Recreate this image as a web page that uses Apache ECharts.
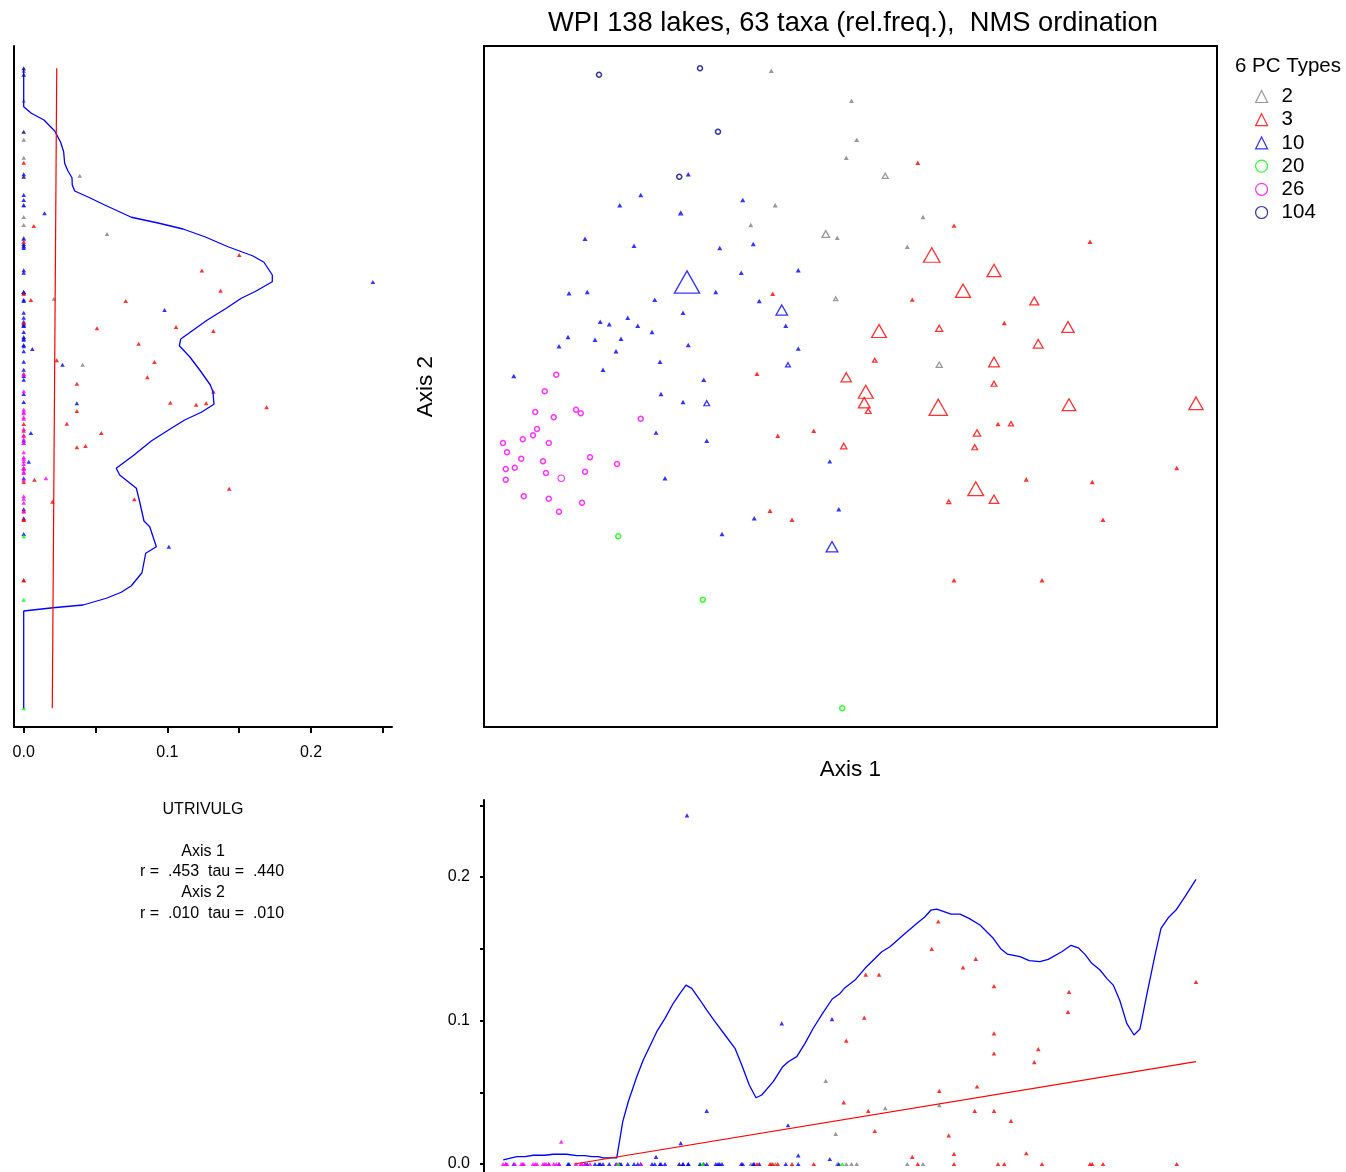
<!DOCTYPE html>
<html>
<head>
<meta charset="utf-8">
<script src="https://cdn.jsdelivr.net/npm/echarts@6/dist/echarts.min.js"></script>
<style>
  html, body { margin: 0; padding: 0; background: #fff; }
  #chart { width: 1346px; height: 1172px; }
</style>
</head>
<body>
<div id="chart"></div>
<script>
// PC type groups shown in the legend
const pcTypeNames = [2, 3, 10, 20, 26, 104];

// PC type of each lake (138 lakes)
const lakeType = [
  104, 104, 104, 104,
  2, 2, 2, 2, 2, 2, 2, 2, 2, 2, 2, 2, 2,
  10, 10, 10, 10, 10, 10, 10, 10, 10, 10, 10, 10,
  10, 10, 10, 10, 10, 10, 10, 10, 10, 10, 10, 10,
  10, 10, 10, 10, 10, 10, 10, 10, 10, 10, 10, 10,
  10, 10, 10, 10, 10, 10, 10, 10, 10, 10, 10, 10,
  3, 3, 3, 3, 3, 3, 3, 3, 3, 3, 3, 3,
  3, 3, 3, 3, 3, 3, 3, 3, 3, 3, 3, 3,
  3, 3, 3, 3, 3, 3, 3, 3, 3, 3, 3, 3,
  3, 3, 3, 3, 3, 3, 3,
  26, 26, 26, 26, 26, 26, 26, 26, 26, 26,
  26, 26, 26, 26, 26, 26, 26, 26, 26, 26,
  26, 26, 26, 26, 26, 26, 26,
  20, 20, 20
];

// NMS axis 1 scores
const axis1 = [
  -1.004, -0.600, -0.528, -0.683,
  -0.315, 0.006, 0.027, -0.015, 0.141, -0.299, 0.292, -0.397, -0.097, -0.051, 0.229, -0.057, 0.357,
  -0.647, -0.837, -0.921, -0.429, -0.677, -1.060, -0.864, -0.521, -0.387, -0.435, -0.207, -0.652,
  -1.124, -1.051, -0.537, -0.781, -0.363, -0.273, -0.668, -0.999, -0.963, -0.889, -0.849, -0.792,
  -0.257, -1.128, -1.164, -1.020, -0.916, -0.936, -0.647, -0.207, -0.760, -0.248, -1.345, -0.988,
  -0.585, -0.756, -0.668, -0.573, -0.776, -0.573, -0.081, -0.740, -0.512, -0.383, -0.045, -0.072,
  0.271, 0.416, 0.960, 0.327, 0.576, -0.309, 0.452, 0.249, 0.737, 0.116, 0.357, 0.617,
  0.872, 0.753, 0.099, 0.576, -0.372, -0.015, 0.063, 0.057, 0.073, 0.353, 0.576, 0.876,
  1.384, 0.592, 0.644, 0.508, 0.499, -0.289, -0.145, -0.025, 1.307, 0.705, 0.969, 0.503,
  0.395, 0.576, -0.320, -0.232, 1.012, 0.416, 0.768,
  -1.175, -1.221, -1.259, -1.185, -1.096, -1.077, -0.837, -1.252, -1.268, -1.309,
  -1.205, -1.388, -1.372, -1.315, -1.228, -1.040, -0.932, -1.377, -1.341, -1.216,
  -1.060, -1.155, -1.377, -1.305, -1.205, -1.072, -1.164,
  -0.927, -0.589, -0.031
];

// NMS axis 2 scores
const axis2 = [
  1.249, 1.275, 1.021, 0.841,
  1.265, 1.145, 0.989, 0.917, 0.845, 0.727, 0.680, 0.648, 0.612, 0.597, 0.561, 0.353, 0.089,
  0.851, 0.768, 0.727, 0.748, 0.695, 0.593, 0.565, 0.556, 0.572, 0.457, 0.467, 0.420,
  0.375, 0.380, 0.380, 0.349, 0.344, 0.308, 0.297, 0.261, 0.251, 0.277, 0.245, 0.220,
  0.245, 0.200, 0.163, 0.189, 0.193, 0.143, 0.168, 0.152, 0.101, 0.089, 0.044, 0.069,
  0.029, -0.028, -0.060, -0.065, -0.184, -0.215, -0.299, -0.365, -0.588, -0.525, -0.489, -0.639,
  0.897, 0.644, 0.581, 0.528, 0.466, 0.373, 0.385, 0.348, 0.344, 0.224, 0.235, 0.256,
  0.240, 0.173, 0.107, 0.100, 0.053, 0.039, -0.019, -0.063, -0.096, -0.081, 0.013, -0.071,
  -0.065, -0.148, -0.147, -0.184, -0.241, -0.195, -0.175, -0.236, -0.324, -0.371, -0.380, -0.407,
  -0.459, -0.449, -0.495, -0.531, -0.531, -0.773, -0.773,
  0.049, -0.017, -0.100, -0.121, -0.091, -0.105, -0.127, -0.168, -0.193, -0.209,
  -0.224, -0.224, -0.261, -0.287, -0.297, -0.281, -0.308, -0.328, -0.323, -0.344,
  -0.339, -0.365, -0.371, -0.437, -0.447, -0.463, -0.499,
  -0.597, -0.851, -1.285
];

// UTRIVULG relative frequency per lake
const utrivulg = [
  0, 0, 0, 0,
  0, 0, 0, 0, 0.039, 0, 0, 0, 0.058, 0, 0, 0.021, 0.041,
  0, 0, 0, 0, 0.0145, 0, 0, 0, 0, 0, 0, 0.243,
  0, 0, 0, 0, 0, 0.098, 0, 0, 0, 0, 0, 0,
  0, 0, 0, 0, 0, 0, 0, 0.006, 0, 0.027, 0, 0,
  0, 0, 0, 0.037, 0.005, 0, 0.0035, 0, 0, 0, 0, 0.101,
  0, 0.007, 0, 0.150, 0.124, 0, 0.137, 0.005, 0.071, 0.132, 0.051, 0,
  0.106, 0.080, 0.023, 0.091, 0, 0.086, 0.132, 0.102, 0.037, 0.169, 0.037, 0.120,
  0.127, 0, 0.030, 0.054, 0.037, 0, 0, 0.043, 0, 0.0075, 0, 0.143,
  0.020, 0.077, 0, 0, 0, 0, 0,
  0, 0, 0, 0, 0, 0, 0, 0, 0, 0,
  0, 0, 0, 0, 0, 0, 0, 0, 0, 0,
  0, 0.0155, 0, 0, 0, 0, 0,
  0, 0, 0
];

// Smoothed trend of UTRIVULG along axis 2 (side panel)
const leftSmoothAxis2 = [1.275, 1.121, 1.095, 1.068, 1.024, 0.979, 0.941, 0.895, 0.864, 0.837, 0.808, 0.784, 0.757, 0.728, 0.679, 0.656, 0.632, 0.601, 0.561, 0.524, 0.499, 0.448, 0.421, 0.381, 0.355, 0.315, 0.268, 0.192, 0.165, 0.121, 0.068, 0.008, -0.019, -0.069, -0.101, -0.132, -0.165, -0.216, -0.275, -0.325, -0.352, -0.405, -0.459, -0.536, -0.559, -0.639, -0.665, -0.743, -0.795, -0.821, -0.845, -0.872, -0.883, -0.896, -1.285];
const leftSmoothUtr = [0, 0, 0.0053, 0.0141, 0.0216, 0.0257, 0.0278, 0.0285, 0.0308, 0.0336, 0.0338, 0.0355, 0.0459, 0.0564, 0.0749, 0.0935, 0.1109, 0.1260, 0.1422, 0.1596, 0.1672, 0.1730, 0.1730, 0.1608, 0.1514, 0.1410, 0.1278, 0.1093, 0.1083, 0.1155, 0.1225, 0.1299, 0.1317, 0.1324, 0.1236, 0.1120, 0.1027, 0.0888, 0.0761, 0.0644, 0.0668, 0.0784, 0.0807, 0.0837, 0.0877, 0.0923, 0.0849, 0.0823, 0.0749, 0.0679, 0.0575, 0.0413, 0.0204, 0, 0];

// Smoothed trend of UTRIVULG along axis 1 (lower panel)
const bottomSmoothAxis1 = [-1.387, -1.333, -1.300, -1.267, -1.220, -1.187, -1.133, -1.093, -1.060, -1.033, -1.007, -0.987, -0.933, -0.909, -0.887, -0.853, -0.827, -0.773, -0.740, -0.707, -0.680, -0.656, -0.633, -0.600, -0.573, -0.540, -0.500, -0.460, -0.433, -0.403, -0.376, -0.353, -0.307, -0.269, -0.247, -0.213, -0.180, -0.147, -0.107, -0.071, -0.040, -0.020, 0.020, 0.060, 0.127, 0.160, 0.213, 0.267, 0.300, 0.324, 0.347, 0.404, 0.440, 0.476, 0.520, 0.573, 0.604, 0.629, 0.680, 0.717, 0.760, 0.793, 0.847, 0.884, 0.913, 0.940, 0.967, 1.000, 1.027, 1.053, 1.080, 1.107, 1.136, 1.160, 1.187, 1.220, 1.244, 1.273, 1.304, 1.340, 1.384];
const bottomSmoothUtr = [0.0028, 0.0051, 0.0051, 0.0061, 0.0061, 0.0068, 0.0068, 0.0058, 0.0058, 0.0051, 0.0051, 0.0042, 0.0042, 0.0295, 0.0434, 0.0608, 0.0725, 0.0922, 0.1015, 0.1120, 0.1189, 0.1247, 0.1224, 0.1143, 0.1073, 0.0992, 0.0899, 0.0806, 0.0690, 0.0551, 0.0462, 0.0481, 0.0574, 0.0678, 0.0713, 0.0748, 0.0841, 0.0946, 0.1057, 0.1150, 0.1189, 0.1229, 0.1282, 0.1364, 0.1479, 0.1514, 0.1596, 0.1677, 0.1723, 0.1770, 0.1777, 0.1742, 0.1742, 0.1712, 0.1666, 0.1573, 0.1498, 0.1463, 0.1445, 0.1417, 0.1410, 0.1426, 0.1479, 0.1524, 0.1507, 0.1461, 0.1399, 0.1352, 0.1294, 0.1247, 0.1136, 0.0980, 0.0899, 0.0941, 0.1178, 0.1456, 0.1642, 0.1716, 0.1770, 0.1863, 0.1984];

// Linear fits (endpoints)
const leftFitAxis2 = [1.275, -1.285];
const leftFitUtr = [0.0230, 0.0199];
const bottomFitAxis1 = [-1.103, 1.384];
const bottomFitUtr = [0, 0.0713];

// Axis tick values for the two UTRIVULG scales
const utrTicks = [0, 0.05, 0.10, 0.15, 0.20, 0.25];
const utrLabels = [0, 0.1, 0.2];

// Correlation summary text
const statLines = ['UTRIVULG', 'Axis 1', 'r =  .453  tau =  .440', 'Axis 2', 'r =  .010  tau =  .010'];
const statLineY = [810, 852, 872, 893, 914];

// ---- styling ----
const FONT = 'Liberation Sans, Arial, Helvetica, sans-serif';
const typeColor = { 2: '#808080', 3: '#ff0000', 10: '#0000ff', 20: '#00ff00', 26: '#ff00ff', 104: '#000080' };
const circleTypes = new Set([20, 26, 104]);

function ordinationItem(i) {
  const t = lakeType[i], v = utrivulg[i], c = typeColor[t];
  const circ = circleTypes.has(t);
  let size, style;
  if (v === 0) {
    size = circ ? 5 : [5, 4.4];
    style = circ ? { color: '#ffffff', borderColor: c, borderWidth: 1.5 } : { color: c, borderWidth: 0 };
  } else {
    const w = circ ? 5 + 95 * v : 2.2 + 95 * v;
    size = circ ? w : [w, w * 0.88];
    style = { color: 'rgba(255,255,255,0)', borderColor: c, borderWidth: circ ? 1.1 : 1.3 };
  }
  return { value: [axis1[i], axis2[i]], symbol: circ ? 'circle' : 'triangle', symbolSize: size, itemStyle: style };
}

const indices = lakeType.map((_, i) => i);

const ordinationSeries = pcTypeNames.map(t => ({
  name: String(t),
  type: 'scatter',
  xAxisIndex: 0, yAxisIndex: 0,
  itemStyle: { color: typeColor[t] },
  data: indices.filter(i => lakeType[i] === t).map(ordinationItem)
}));

const sideMarker = { symbol: 'triangle', symbolSize: [4.6, 4.2] };

const option = {
  animation: false,
  backgroundColor: '#ffffff',
  textStyle: { fontFamily: FONT, color: '#000' },
  title: [
    {
      text: 'WPI 138 lakes, 63 taxa (rel.freq.),  NMS ordination',
      left: 548, top: 10, padding: 0,
      textStyle: { fontFamily: FONT, fontSize: 27.3, fontWeight: 'normal', color: '#000' }
    },
    {
      text: '6 PC Types',
      left: 1235, top: 56, padding: 0,
      textStyle: { fontFamily: FONT, fontSize: 20.5, fontWeight: 'normal', color: '#000' }
    }
  ],
  legend: {
    orient: 'vertical',
    left: 1255, top: 86, padding: 0,
    itemWidth: 12, itemHeight: 12, itemGap: 2.2, itemTextGap: 15,
    textStyle: { fontFamily: FONT, fontSize: 20.5, lineHeight: 20, color: '#000', padding: [0, 0, 0, 9] },
    selectedMode: false,
    data: pcTypeNames.map(t => ({
      name: String(t),
      icon: circleTypes.has(t) ? 'circle' : 'triangle',
      itemStyle: { color: 'rgba(255,255,255,0)', borderColor: typeColor[t], borderWidth: 1.2 }
    }))
  },
  grid: [
    { left: 484, top: 46, width: 733, height: 681, show: true, borderColor: '#000', borderWidth: 2, backgroundColor: 'rgba(0,0,0,0)' },
    { left: 14, top: 46, width: 378, height: 681 },
    { left: 484, top: 800, width: 733, height: 372 }
  ],
  xAxis: [
    {
      gridIndex: 0, type: 'value', min: -1.464, max: 1.468,
      name: 'Axis 1', nameLocation: 'middle', nameGap: 31,
      nameTextStyle: { fontFamily: FONT, fontSize: 22.5, color: '#000' },
      axisLine: { show: false }, axisTick: { show: false }, axisLabel: { show: false }, splitLine: { show: false }
    },
    {
      gridIndex: 1, type: 'value', min: -0.00675, max: 0.2563,
      axisLine: { show: true, onZero: false, lineStyle: { color: '#000', width: 2 } },
      axisTick: { show: true, customValues: utrTicks, length: 6, lineStyle: { color: '#000', width: 2 } },
      axisLabel: { show: true, customValues: utrLabels, formatter: v => v.toFixed(1), margin: 18, fontFamily: FONT, fontSize: 16, color: '#000' },
      splitLine: { show: false }
    },
    {
      gridIndex: 2, type: 'value', min: -1.464, max: 1.468,
      axisLine: { show: false }, axisTick: { show: false }, axisLabel: { show: false }, splitLine: { show: false }
    }
  ],
  yAxis: [
    {
      gridIndex: 0, type: 'value', min: -1.360, max: 1.364,
      name: 'Axis 2', nameLocation: 'middle', nameGap: 47, nameRotate: 90,
      nameTextStyle: { fontFamily: FONT, fontSize: 22.5, color: '#000' },
      axisLine: { show: false }, axisTick: { show: false }, axisLabel: { show: false }, splitLine: { show: false }
    },
    {
      gridIndex: 1, type: 'value', min: -1.360, max: 1.364,
      axisLine: { show: true, onZero: false, lineStyle: { color: '#000', width: 2 } },
      axisTick: { show: false }, axisLabel: { show: false }, splitLine: { show: false }
    },
    {
      gridIndex: 2, type: 'value', min: -0.00557, max: 0.2537,
      axisLine: { show: true, onZero: false, lineStyle: { color: '#000', width: 2 } },
      axisTick: { show: true, customValues: utrTicks, length: 4, lineStyle: { color: '#000', width: 2 } },
      axisLabel: { show: true, customValues: utrLabels, formatter: v => v.toFixed(1), margin: 14, fontFamily: FONT, fontSize: 16, color: '#000' },
      splitLine: { show: false }
    }
  ],
  graphic: statLines.map((s, k) => ({
    type: 'text',
    x: (k === 2 || k === 4) ? 212 : 203,
    y: statLineY[k],
    style: { text: s, font: '16px ' + FONT, fill: '#000', align: 'center', verticalAlign: 'middle', textAlign: 'center', textVerticalAlign: 'middle' }
  })),
  series: [
    ...ordinationSeries,
    {
      name: 'side-points', type: 'scatter', xAxisIndex: 1, yAxisIndex: 1, ...sideMarker,
      data: indices.map(i => ({ value: [utrivulg[i], axis2[i]], itemStyle: { color: typeColor[lakeType[i]] } }))
    },
    {
      name: 'side-smooth', type: 'line', xAxisIndex: 1, yAxisIndex: 1, symbol: 'none',
      lineStyle: { color: '#0000ff', width: 1.3 },
      data: leftSmoothUtr.map((v, k) => [v, leftSmoothAxis2[k]])
    },
    {
      name: 'side-fit', type: 'line', xAxisIndex: 1, yAxisIndex: 1, symbol: 'none',
      lineStyle: { color: '#ff0000', width: 1.2 },
      data: leftFitUtr.map((v, k) => [v, leftFitAxis2[k]])
    },
    {
      name: 'lower-points', type: 'scatter', xAxisIndex: 2, yAxisIndex: 2, ...sideMarker,
      data: indices.map(i => ({ value: [axis1[i], utrivulg[i]], itemStyle: { color: typeColor[lakeType[i]] } }))
    },
    {
      name: 'lower-smooth', type: 'line', xAxisIndex: 2, yAxisIndex: 2, symbol: 'none',
      lineStyle: { color: '#0000ff', width: 1.3 },
      data: bottomSmoothAxis1.map((a, k) => [a, bottomSmoothUtr[k]])
    },
    {
      name: 'lower-fit', type: 'line', xAxisIndex: 2, yAxisIndex: 2, symbol: 'none',
      lineStyle: { color: '#ff0000', width: 1.2 },
      data: bottomFitAxis1.map((a, k) => [a, bottomFitUtr[k]])
    }
  ]
};

const chart = echarts.init(document.getElementById('chart'), null, { renderer: 'canvas' });
chart.setOption(option);
</script>
</body>
</html>
